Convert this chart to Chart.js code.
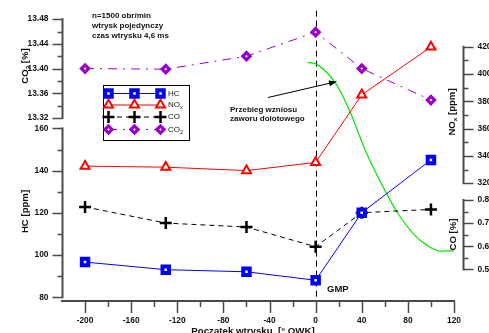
<!DOCTYPE html>
<html>
<head>
<meta charset="utf-8">
<script src="https://cdn.jsdelivr.net/npm/chart.js@4.4.1/dist/chart.umd.min.js"></script>
<style>
  html, body { margin: 0; padding: 0; background: #fff; }
  #wrap { width: 489px; height: 333px; }
</style>
</head>
<body>
<div id="wrap"><canvas id="c" width="489" height="333"></canvas></div>
<script>
// Start of injection [deg crank angle] and measured emissions
const injectionStart = [-200, -130, -60, 0, 40, 100];
const hcPpm  = [96.7, 93.1, 92.1, 88.1, 120.1, 145.1];
const noxPpm = [332.5, 331.7, 329.2, 335.2, 384.8, 420.0];
const coPct  = [0.770, 0.700, 0.683, 0.598, 0.745, 0.759];
const co2Pct = [13.400, 13.399, 13.420, 13.459, 13.400, 13.349];

// Intake valve lift trace
const liftAngle = [-7, 0, 7, 18, 30, 43, 62, 71, 85, 97, 108, 120];
const liftMm    = [9.93, 9.86, 9.55, 8.77, 7.31, 5.32, 2.99, 2.04, 0.92, 0.31, 0.03, 0.04];

// Tick labels
const xTicks   = [-200, -160, -120, -80, -40, 0, 40, 80, 120];
const co2Ticks = [13.32, 13.36, 13.40, 13.44, 13.48];
const hcTicks  = [80, 100, 120, 140, 160];
const noxTicks = [320, 340, 360, 380, 400, 420];
const coTicks  = [0.5, 0.6, 0.7, 0.8];

// ---- layout ----
const AREA = { left: 62, right: 463, top: 5, bottom: 301 };
const X_MIN = -220, X_AT_END = 120, X_END_PX = 454;
const X_MAX = X_MIN + (AREA.right - AREA.left) * (X_AT_END - X_MIN) / (X_END_PX - AREA.left);

// value range of a y scale so that vLo sits at pixel yLo and vHi at pixel yHi
function band(vLo, yLo, vHi, yHi) {
  const k = (vHi - vLo) / (yLo - yHi);
  return { min: vLo - (AREA.bottom - yLo) * k, max: vHi + (yHi - AREA.top) * k };
}

const FONT = '"Liberation Sans", Arial, Helvetica, sans-serif';
const AXIS = '#4a4a4a';
const BLUE = '#0000ff', RED = '#ff0000', BLACK = '#000000', PURPLE = '#9a00cc', GREEN = '#00e600';

const pts = (xs, ys) => xs.map((x, i) => ({ x, y: ys[i] }));

const series = [
  { label: 'HC', data: pts(injectionStart, hcPpm), yAxisID: 'yHC',
    borderColor: BLUE, borderWidth: 1, pointStyle: 'rect', pointRadius: 4.6,
    pointBorderWidth: 4, pointBorderColor: BLUE, pointBackgroundColor: '#fff' },
  { label: 'NOx', data: pts(injectionStart, noxPpm), yAxisID: 'yNOx',
    borderColor: RED, borderWidth: 1, pointStyle: 'triangle', pointRadius: 5.2,
    pointBorderWidth: 2, pointBorderColor: RED, pointBackgroundColor: '#fff' },
  { label: 'CO', data: pts(injectionStart, coPct), yAxisID: 'yCO',
    borderColor: BLACK, borderWidth: 1, borderDash: [5, 4], pointStyle: 'cross', pointRadius: 6,
    pointBorderWidth: 2.5, pointBorderColor: BLACK, pointBackgroundColor: BLACK },
  { label: 'CO2', data: pts(injectionStart, co2Pct), yAxisID: 'yCO2',
    borderColor: PURPLE, borderWidth: 1, borderDash: [9, 6, 2, 6], pointStyle: 'rectRot', pointRadius: 3.6,
    pointBorderWidth: 3.2, pointBorderColor: PURPLE, pointBackgroundColor: '#fff' },
  { label: 'lift', data: pts(liftAngle, liftMm), yAxisID: 'yLift',
    borderColor: GREEN, borderWidth: 1.2, pointRadius: 0, cubicInterpolationMode: 'monotone' }
];

// ---- drawing helpers ----
function seg(ctx, x1, y1, x2, y2) {
  ctx.beginPath(); ctx.moveTo(x1, y1); ctx.lineTo(x2, y2); ctx.stroke();
}
function midpoints(arr) {
  const out = [];
  for (let i = 0; i < arr.length - 1; i++) out.push((arr[i] + arr[i + 1]) / 2);
  return out;
}
// text made of runs; sub runs are smaller and lowered
function richText(ctx, runs, size, x, y, rot) {
  ctx.save();
  ctx.translate(x, y);
  if (rot) ctx.rotate(rot);
  const fontOf = r => 'bold ' + (r.sub ? size * 0.65 : size) + 'px ' + FONT;
  let total = 0;
  runs.forEach(r => { ctx.font = fontOf(r); total += ctx.measureText(r.t).width; });
  let cx = -total / 2;
  ctx.textBaseline = 'middle'; ctx.textAlign = 'left'; ctx.fillStyle = '#111';
  runs.forEach(r => {
    ctx.font = fontOf(r);
    ctx.fillText(r.t, cx, r.sub ? size * 0.3 : 0);
    cx += ctx.measureText(r.t).width;
  });
  ctx.restore();
}
function vAxis(ctx, scale, x, dir, ticks, fmt) {
  const lo = ticks[0], hi = ticks[ticks.length - 1];
  ctx.strokeStyle = AXIS; ctx.lineWidth = 2; ctx.setLineDash([]);
  seg(ctx, x, scale.getPixelForValue(lo) + 1, x, scale.getPixelForValue(hi) - 1);
  ctx.lineWidth = 1.5;
  ticks.forEach(v => { const y = Math.round(scale.getPixelForValue(v)) + 0.5; seg(ctx, x, y, x + dir * 10, y); });
  midpoints(ticks).forEach(v => { const y = Math.round(scale.getPixelForValue(v)) + 0.5; seg(ctx, x, y, x + dir * 5, y); });
  ctx.font = 'bold 8.4px ' + FONT; ctx.fillStyle = '#111'; ctx.textBaseline = 'middle';
  ctx.textAlign = dir < 0 ? 'right' : 'left';
  ticks.forEach(v => ctx.fillText(fmt(v), x + dir * 14, scale.getPixelForValue(v)));
}
function marker(ctx, ds, x, y) {
  ctx.save();
  ctx.setLineDash([]);
  ctx.strokeStyle = ds.pointBorderColor; ctx.fillStyle = ds.pointBackgroundColor;
  ctx.lineWidth = ds.pointBorderWidth;
  Chart.helpers.drawPoint(ctx, { pointStyle: ds.pointStyle, radius: ds.pointRadius, rotation: 0, borderWidth: ds.pointBorderWidth }, x, y);
  ctx.restore();
}

const decor = {
  id: 'decor',
  beforeDatasetsDraw(chart) {
    const ctx = chart.ctx, sx = chart.scales.x;
    // top dead centre marker line
    ctx.save();
    ctx.strokeStyle = '#000'; ctx.lineWidth = 1; ctx.setLineDash([6, 4]);
    const x0 = Math.round(sx.getPixelForValue(0)) + 0.5;
    seg(ctx, x0, chart.chartArea.top + 2, x0, chart.chartArea.bottom + 6);
    ctx.restore();
  },
  afterDatasetsDraw(chart) {
    const ctx = chart.ctx, s = chart.scales, a = chart.chartArea;
    ctx.save();

    // x axis
    ctx.strokeStyle = AXIS; ctx.lineWidth = 2; ctx.setLineDash([]);
    seg(ctx, a.left - 1, a.bottom, s.x.getPixelForValue(xTicks[xTicks.length - 1]) + 1, a.bottom);
    ctx.lineWidth = 1.5;
    xTicks.forEach(v => { const x = Math.round(s.x.getPixelForValue(v)) + 0.5; seg(ctx, x, a.bottom, x, a.bottom + 12); });
    midpoints(xTicks).forEach(v => { const x = Math.round(s.x.getPixelForValue(v)) + 0.5; seg(ctx, x, a.bottom, x, a.bottom + 6); });
    ctx.font = 'bold 8.4px ' + FONT; ctx.fillStyle = '#111'; ctx.textAlign = 'center'; ctx.textBaseline = 'middle';
    xTicks.forEach(v => ctx.fillText(String(v), s.x.getPixelForValue(v), a.bottom + 20));
    richText(ctx, [{ t: 'Poczatek wtrysku  [\u00B0 OWK]' }], 9.7, 253, a.bottom + 30.5, 0);

    // y axes
    const lx = a.left + 0.5, rx = a.right + 0.5;
    vAxis(ctx, s.yCO2, lx, -1, co2Ticks, v => v.toFixed(2));
    vAxis(ctx, s.yHC, lx, -1, hcTicks, v => String(v));
    vAxis(ctx, s.yNOx, rx, 1, noxTicks, v => String(v));
    vAxis(ctx, s.yCO, rx, 1, coTicks, v => v.toFixed(1));

    const up = -Math.PI / 2;
    richText(ctx, [{ t: 'CO' }, { t: '2', sub: true }, { t: ' [%]' }], 9.6, 25, 66, up);
    richText(ctx, [{ t: 'HC [ppm]' }], 9.6, 25.5, 211.5, up);
    richText(ctx, [{ t: 'NO' }, { t: 'x', sub: true }, { t: ' [ppm]' }], 9.6, 452.5, 112, up);
    richText(ctx, [{ t: 'CO [%]' }], 9.6, 453, 234.5, up);

    // operating point description
    ctx.font = 'bold 8px ' + FONT; ctx.fillStyle = '#111'; ctx.textAlign = 'left'; ctx.textBaseline = 'middle';
    ctx.fillText('n=1500 obr/min', 92, 16);
    ctx.fillText('wtrysk pojedynczy', 92, 26);
    ctx.fillText('czas wtrysku 4,6 ms', 92, 36);

    // valve lift note with arrow
    ctx.fillText('Przebieg wzniosu', 230, 109.5);
    ctx.fillText('zaworu dolotowego', 230, 119);
    const ax1 = 268, ay1 = 97.5, ax2 = 337, ay2 = 81.5;
    ctx.strokeStyle = '#000'; ctx.lineWidth = 1;
    seg(ctx, ax1, ay1, ax2 - 5, ay2 + 1.2);
    const ang = Math.atan2(ay2 - ay1, ax2 - ax1);
    ctx.beginPath();
    ctx.moveTo(ax2, ay2);
    ctx.lineTo(ax2 - 8 * Math.cos(ang) + 3 * Math.sin(ang), ay2 - 8 * Math.sin(ang) - 3 * Math.cos(ang));
    ctx.lineTo(ax2 - 8 * Math.cos(ang) - 3 * Math.sin(ang), ay2 - 8 * Math.sin(ang) + 3 * Math.cos(ang));
    ctx.closePath(); ctx.fillStyle = '#000'; ctx.fill();

    ctx.font = 'bold 9.5px ' + FONT; ctx.fillStyle = '#111';
    ctx.fillText('GMP', 327, 289);

    // legend
    ctx.fillStyle = '#fff'; ctx.fillRect(103.5, 85.5, 86, 55);
    ctx.strokeStyle = '#000'; ctx.lineWidth = 1; ctx.strokeRect(103.5, 85.5, 86, 55);
    const rows = [
      { ds: chart.data.datasets[0], y: 93.5, runs: [{ t: 'HC' }] },
      { ds: chart.data.datasets[1], y: 105, runs: [{ t: 'NO' }, { t: 'x', sub: true }] },
      { ds: chart.data.datasets[2], y: 117, runs: [{ t: 'CO' }] },
      { ds: chart.data.datasets[3], y: 129.5, runs: [{ t: 'CO' }, { t: '2', sub: true }] }
    ];
    rows.forEach(r => {
      ctx.save();
      ctx.strokeStyle = r.ds.borderColor; ctx.lineWidth = r.ds.borderWidth;
      ctx.setLineDash(r.ds.borderDash || []);
      seg(ctx, 108, r.y, 161, r.y);
      ctx.restore();
      [108.5, 134.5, 160.5].forEach(px => marker(ctx, r.ds, px, r.y));
      let cx = 168;
      ctx.fillStyle = '#111'; ctx.textAlign = 'left'; ctx.textBaseline = 'middle';
      r.runs.forEach(run => {
        ctx.font = (run.sub ? '5.5px ' : '8px ') + FONT;
        ctx.fillText(run.t, cx, r.y + (run.sub ? 2.5 : 0));
        cx += ctx.measureText(run.t).width;
      });
    });

    ctx.restore();
  }
};

new Chart(document.getElementById('c'), {
  type: 'line',
  data: { datasets: series },
  options: {
    responsive: false,
    animation: false,
    devicePixelRatio: 1,
    layout: { padding: { left: AREA.left, right: 489 - AREA.right, top: AREA.top, bottom: 333 - AREA.bottom } },
    plugins: { legend: { display: false }, tooltip: { enabled: false } },
    elements: { line: { tension: 0 } },
    scales: {
      x:     { type: 'linear', display: false, min: X_MIN, max: X_MAX },
      yCO2:  { type: 'linear', display: false, ...band(13.32, 115.7, 13.48, 15.7) },
      yHC:   { type: 'linear', display: false, ...band(80, 297.3, 160, 126.3) },
      yNOx:  { type: 'linear', display: false, ...band(320, 181.7, 420, 43.7) },
      yCO:   { type: 'linear', display: false, ...band(0.5, 269, 0.8, 198.7) },
      yLift: { type: 'linear', display: false, ...band(0, 251, 10, 58) }
    }
  },
  plugins: [decor]
});
</script>
</body>
</html>
